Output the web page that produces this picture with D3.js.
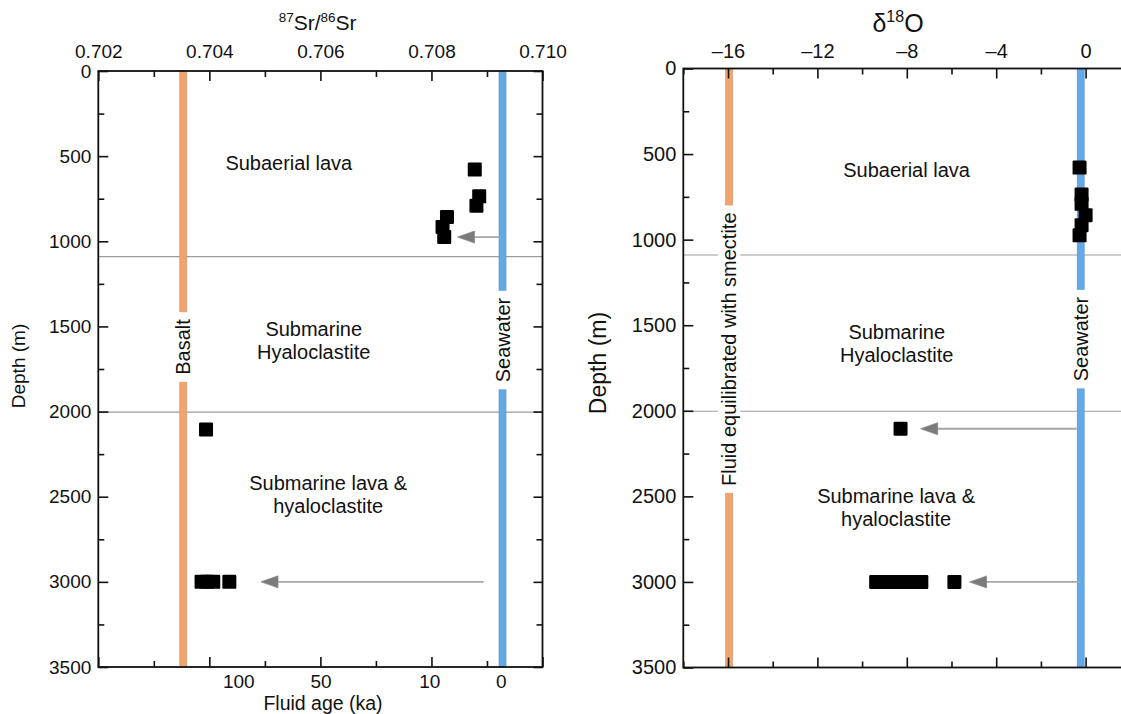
<!DOCTYPE html>
<html>
<head>
<meta charset="utf-8">
<script src="https://cdn.jsdelivr.net/npm/d3@7"></script>
<style>
  body { margin: 0; background: #fff; }
  svg { display: block; font-family: "Liberation Sans", Arial, Helvetica, sans-serif; }
</style>
</head>
<body>
<svg id="chart" width="1121" height="714"></svg>
<script>
// ---- Fluid samples: 87Sr/86Sr against depth (m) ----
const srDepth = [579, 736, 791, 857, 916, 975, 2105, 3000, 3000, 3000, 3000];
const srRatio = [0.70878, 0.70886, 0.70881, 0.70828, 0.70820, 0.70823,
                 0.70394, 0.70386, 0.70396, 0.70407, 0.70436];

// ---- Fluid samples: δ18O against depth (m) ----
const oDepth = [579, 736, 791, 857, 916, 975, 2105,
                3000, 3000, 3000, 3000, 3000, 3000, 3000];
const oDelta = [-0.27, -0.18, -0.18, 0.0, -0.18, -0.27, -8.28,
                -9.37, -9.0, -8.6, -8.2, -7.8, -7.35, -5.87];

// ---- End-member reference values ----
const srBasalt = 0.70353;
const srSeawater = 0.70928;
const oSmectite = -15.95;
const oSeawater = -0.22;

// ---- Lithological unit boundaries (m) ----
const unitBoundaries = [1090, 2003];

// ---- Shift arrows (start value, end value, depth) ----
const srArrowFrom = [0.70924, 0.70894];
const srArrowTo = [0.70847, 0.70493];
const srArrowDepth = [975, 3000];
const oArrowFrom = [-0.40, -0.25];
const oArrowTo = [-7.38, -5.19];
const oArrowDepth = [2105, 3000];

// ---- Axis ticks ----
const srMajorTicks = [0.702, 0.704, 0.706, 0.708, 0.710];
const srMinorTicks = [0.703, 0.705, 0.707, 0.709];
const fluidAgeLabels = ["100", "50", "10", "0"];
const fluidAgeRatio = [0.70453, 0.70601, 0.70797, 0.70926];
const oMajorTicks = [-16, -12, -8, -4, 0];
const oMinorTicks = [-18, -14, -10, -6, -2, 2];
const depthMajorTicks = [0, 500, 1000, 1500, 2000, 2500, 3000, 3500];
const depthMinorTicks = [250, 750, 1250, 1750, 2250, 2750, 3250];

// ---- Unit names and their label anchors ----
const unitNames = [["Subaerial lava"], ["Submarine", "Hyaloclastite"], ["Submarine lava &", "hyaloclastite"]];
const srUnitLabelX = [0.70543, 0.70588, 0.70614];
const srUnitLabelDepth = [540, 1580, 2488];
const oUnitLabelX = [-8.01, -8.45, -8.48];
const oUnitLabelDepth = [593, 1604, 2563];

const ORANGE = "#F3A36C";
const BLUE = "#63A9E7";
const FONT = 20;

const svg = d3.select("#chart");

function drawPanel(cfg) {
  const { x, y } = cfg;
  const g = svg.append("g");
  const [x0, x1] = x.range();
  const [y0, y1] = y.range();

  // unit boundaries
  g.selectAll("line.boundary").data(unitBoundaries).join("line")
    .attr("class", "boundary")
    .attr("x1", x0).attr("x2", x1)
    .attr("y1", d => y(d)).attr("y2", d => y(d))
    .attr("stroke", "#9c9c9c").attr("stroke-width", 1.1);

  // end-member bands with their labels
  cfg.bands.forEach(b => {
    const cx = x(b.value);
    g.append("rect")
      .attr("x", cx - 3.5).attr("y", y(0))
      .attr("width", 7).attr("height", y(3500) - y(0))
      .attr("fill", b.color).attr("stroke", b.edge).attr("stroke-width", 0.6);
    const cy = y(b.labelDepth);
    const box = g.append("rect").attr("fill", "#fff");
    const t = g.append("text")
      .attr("transform", `translate(${cx + 7},${cy}) rotate(-90)`)
      .attr("text-anchor", "middle")
      .attr("font-size", FONT)
      .attr("fill", "#111")
      .text(b.label);
    const len = t.node().getComputedTextLength();
    box.attr("x", cx - 11).attr("width", 22)
      .attr("y", cy - len / 2 - 7).attr("height", len + 14);
  });

  // unit names
  unitNames.forEach((lines, i) => {
    const cx = x(cfg.unitX[i]);
    const cy = y(cfg.unitDepth[i]);
    const step = 23;
    lines.forEach((s, j) => {
      g.append("text")
        .attr("x", cx)
        .attr("y", cy + (j - (lines.length - 1) / 2) * step)
        .attr("dy", "0.35em")
        .attr("text-anchor", "middle")
        .attr("font-size", FONT)
        .attr("fill", "#111")
        .text(s);
    });
  });

  // shift arrows
  cfg.arrowFrom.forEach((v, i) => {
    const xa = x(v), xb = x(cfg.arrowTo[i]), ya = y(cfg.arrowDepth[i]);
    const dir = xa > xb ? 1 : -1;
    const hl = 17, hw = 6;
    g.append("line")
      .attr("x1", xa).attr("x2", xb + dir * hl * 0.6)
      .attr("y1", ya).attr("y2", ya)
      .attr("stroke", "#a6a6a6").attr("stroke-width", 1.8);
    g.append("path")
      .attr("d", `M${xb},${ya}L${xb + dir * hl},${ya - hw}L${xb + dir * hl},${ya + hw}Z`)
      .attr("fill", "#7a7a7a").attr("stroke", "#8a8a8a").attr("stroke-width", 0.8);
  });

  // samples
  const s = 14;
  g.selectAll("rect.pt").data(cfg.vals.map((v, i) => [v, cfg.depths[i]])).join("rect")
    .attr("class", "pt")
    .attr("x", d => x(d[0]) - s / 2).attr("y", d => y(d[1]) - s / 2)
    .attr("width", s).attr("height", s)
    .attr("rx", 1.2)
    .attr("fill", "#000");

  // axes
  function styleAxis(sel, fs) {
    sel.select(".domain").remove();
    sel.selectAll(".tick line").attr("stroke", "#111").attr("stroke-width", 1.6);
    sel.selectAll(".tick text").attr("fill", "#111").attr("font-size", fs)
      .attr("font-family", '"Liberation Sans", Arial, Helvetica, sans-serif');
    sel.attr("font-family", null).attr("font-size", null);
  }
  const xf = cfg.xFormat;
  g.append("g").attr("transform", `translate(0,${y0})`)
    .call(d3.axisTop(x).tickValues(cfg.xMajor).tickSize(-10).tickSizeOuter(0).tickPadding(cfg.topPad).tickFormat(xf))
    .call(a => styleAxis(a, cfg.tickFont));
  g.append("g").attr("transform", `translate(0,${y0})`)
    .call(d3.axisTop(x).tickValues(cfg.xMinor).tickSize(-6).tickSizeOuter(0).tickFormat(""))
    .call(a => styleAxis(a, cfg.tickFont));
  g.append("g").attr("transform", `translate(0,${y1})`)
    .call(d3.axisBottom(x).tickValues(cfg.xMajor).tickSize(-10).tickSizeOuter(0).tickFormat(""))
    .call(a => styleAxis(a, cfg.tickFont));
  g.append("g").attr("transform", `translate(0,${y1})`)
    .call(d3.axisBottom(x).tickValues(cfg.xMinor).tickSize(-6).tickSizeOuter(0).tickFormat(""))
    .call(a => styleAxis(a, cfg.tickFont));
  g.append("g").attr("transform", `translate(${x0},0)`)
    .call(d3.axisLeft(y).tickValues(depthMajorTicks).tickSize(-10).tickSizeOuter(0).tickPadding(7).tickFormat(d3.format("d")))
    .call(a => styleAxis(a, cfg.tickFont));
  g.append("g").attr("transform", `translate(${x0},0)`)
    .call(d3.axisLeft(y).tickValues(depthMinorTicks).tickSize(-6).tickSizeOuter(0).tickFormat(""))
    .call(a => styleAxis(a, cfg.tickFont));
  g.append("g").attr("transform", `translate(${x1},0)`)
    .call(d3.axisRight(y).tickValues(depthMajorTicks).tickSize(-9).tickSizeOuter(0).tickFormat(""))
    .call(a => styleAxis(a, cfg.tickFont));
  g.append("g").attr("transform", `translate(${x1},0)`)
    .call(d3.axisRight(y).tickValues(depthMinorTicks).tickSize(-6).tickSizeOuter(0).tickFormat(""))
    .call(a => styleAxis(a, cfg.tickFont));

  // frame
  g.append("rect")
    .attr("x", x0).attr("y", y0).attr("width", x1 - x0).attr("height", y1 - y0)
    .attr("fill", "none").attr("stroke", "#111").attr("stroke-width", 1.8);

  // depth title
  g.append("text")
    .attr("transform", `translate(${cfg.depthTitleX},${cfg.depthTitleY}) rotate(-90)`)
    .attr("text-anchor", "middle").attr("dy", "0.35em")
    .attr("font-size", cfg.depthTitleFont).attr("fill", "#111")
    .text("Depth (m)");
  return g;
}

// ---- Left panel: strontium ----
const xSr = d3.scaleLinear().domain([0.702, 0.710]).range([98.3, 542.5]);
const ySr = d3.scaleLinear().domain([0, 3500]).range([71, 667]);
const gSr = drawPanel({
  x: xSr, y: ySr,
  vals: srRatio, depths: srDepth,
  bands: [
    { value: srBasalt, color: ORANGE, edge: "#c9906a", label: "Basalt", labelDepth: 1621 },
    { value: srSeawater, color: BLUE, edge: "#5a8fc0", label: "Seawater", labelDepth: 1580 }
  ],
  unitX: srUnitLabelX, unitDepth: srUnitLabelDepth,
  arrowFrom: srArrowFrom, arrowTo: srArrowTo, arrowDepth: srArrowDepth,
  xMajor: srMajorTicks, xMinor: srMinorTicks, xFormat: d3.format(".3f"),
  tickFont: 19, topPad: 13,
  depthTitleX: 18, depthTitleY: 366, depthTitleFont: 19
});

// Sr ratio title
const srTitle = gSr.append("text")
  .attr("x", xSr(0.70595)).attr("y", 30)
  .attr("text-anchor", "middle").attr("font-size", 21).attr("fill", "#111");
srTitle.append("tspan").attr("font-size", 13.5).attr("dy", -8).text("87");
srTitle.append("tspan").attr("dy", 8).text("Sr/");
srTitle.append("tspan").attr("font-size", 13.5).attr("dy", -8).text("86");
srTitle.append("tspan").attr("dy", 8).text("Sr");

// fluid age scale under the strontium panel
gSr.selectAll("text.age").data(fluidAgeLabels).join("text")
  .attr("class", "age")
  .attr("x", (d, i) => xSr(fluidAgeRatio[i]))
  .attr("y", 688)
  .attr("text-anchor", "middle").attr("font-size", 19).attr("fill", "#111")
  .text(d => d);
gSr.append("text")
  .attr("x", 323).attr("y", 710)
  .attr("text-anchor", "middle").attr("font-size", 19.5).attr("fill", "#111")
  .text("Fluid age (ka)");

// ---- Right panel: oxygen ----
const xO = d3.scaleLinear().domain([-18, 2]).range([683.3, 1130.3]);
const yO = d3.scaleLinear().domain([0, 3500]).range([68.5, 667.5]);
const gO = drawPanel({
  x: xO, y: yO,
  vals: oDelta, depths: oDepth,
  bands: [
    { value: oSmectite, color: ORANGE, edge: "#c9906a", label: "Fluid equilibrated with smectite", labelDepth: 1640 },
    { value: oSeawater, color: BLUE, edge: "#5a8fc0", label: "Seawater", labelDepth: 1581 }
  ],
  unitX: oUnitLabelX, unitDepth: oUnitLabelDepth,
  arrowFrom: oArrowFrom, arrowTo: oArrowTo, arrowDepth: oArrowDepth,
  xMajor: oMajorTicks, xMinor: oMinorTicks,
  xFormat: d => (d < 0 ? "\u2013" + Math.abs(d) : String(d)),
  tickFont: 20, topPad: 11,
  depthTitleX: 598, depthTitleY: 363, depthTitleFont: 23
});

// δ18O title
const oTitle = gO.append("text")
  .attr("x", 898).attr("y", 32)
  .attr("text-anchor", "middle").attr("font-size", 25).attr("fill", "#111");
oTitle.append("tspan").text("δ");
oTitle.append("tspan").attr("font-size", 16).attr("dy", -10).text("18");
oTitle.append("tspan").attr("dy", 10).text("O");
</script>
</body>
</html>
